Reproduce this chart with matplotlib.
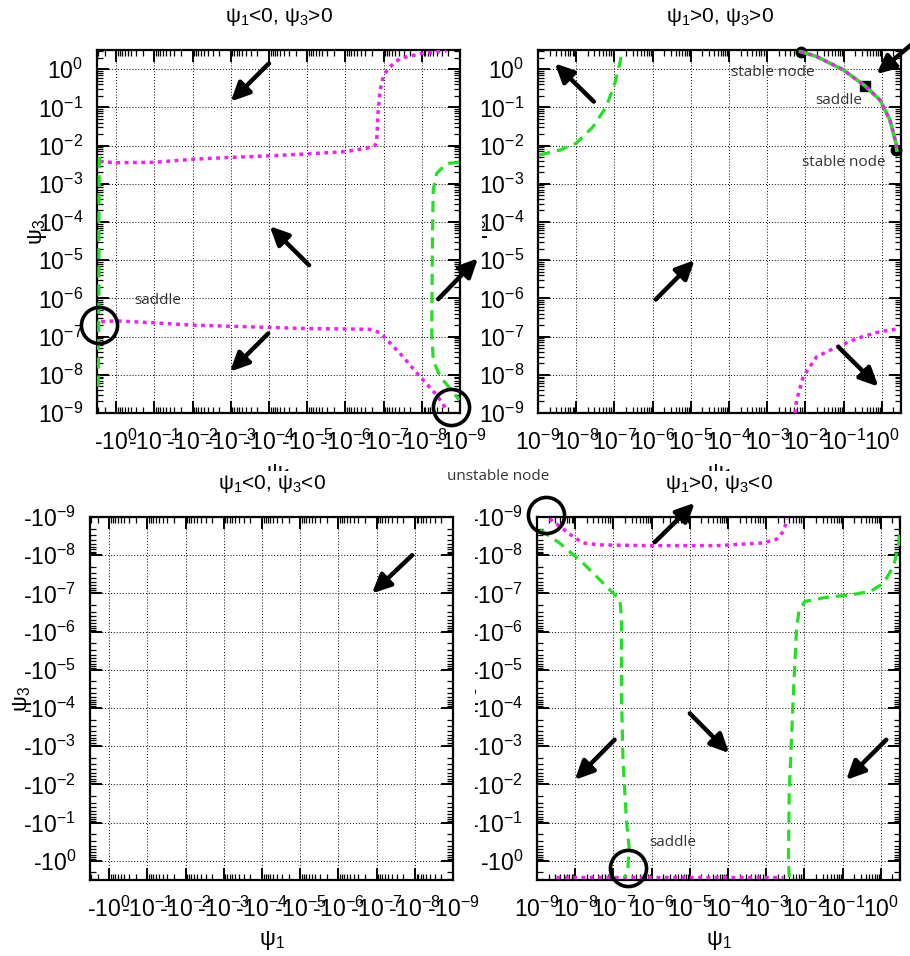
import numpy as np
import matplotlib
matplotlib.use('Agg')
import matplotlib.pyplot as plt
from matplotlib.ticker import FixedLocator, FixedFormatter, LogLocator, NullFormatter
from matplotlib.patches import Rectangle

plt.rcParams['font.family'] = ['Liberation Sans', 'DejaVu Sans']
plt.rcParams['mathtext.default'] = 'regular'

# all curve values are log10 of |psi1| (x) and |psi3| (y)
decades = list(range(-9, 1))
pos_labels = ['10$^{%d}$' % d for d in decades]
neg_labels = ['-10$^{%d}$' % d for d in decades]

# psi1<0, psi3>0
tl_mag_up_x = [0.43, -0.01, -0.99, -2.0, -3.0, -4.01, -5.0, -6.0, -6.56, -6.78, -6.82, -6.86, -6.91, -6.99, -7.12, -7.43, -8.0, -8.65]
tl_mag_up_y = [-2.42, -2.45, -2.44, -2.36, -2.31, -2.27, -2.22, -2.16, -2.07, -2.0, -1.86, -1.07, -0.55, -0.2, 0.02, 0.28, 0.41, 0.48]
tl_mag_lo_x = [0.39, -0.01, -0.99, -2.0, -3.0, -4.01, -5.0, -6.0, -6.64, -6.91, -7.43, -8.0, -8.39, -8.65]
tl_mag_lo_y = [-6.61, -6.59, -6.64, -6.70, -6.73, -6.76, -6.79, -6.80, -6.81, -6.90, -7.44, -8.1, -8.53, -8.91]
tl_grn_l_x = [0.44, 0.45, 0.45, 0.46, 0.47]
tl_grn_l_y = [-2.3, -4.0, -6.0, -7.5, -8.5]
tl_grn_r_x = [-8.98, -8.65, -8.39, -8.30, -8.28, -8.26, -8.30, -8.48, -8.74, -8.98]
tl_grn_r_y = [-2.44, -2.47, -2.73, -3.16, -4.3, -6.92, -7.62, -8.05, -8.36, -8.66]
tl_circles = [(0.45, -6.7), (-8.76, -8.85)]
tl_arrows = [((-4.0, 0.15), (-3.0, -0.85)), ((-5.05, -5.13), (-4.02, -4.11)),
             ((-3.98, -6.92), (-2.98, -7.92)), ((-8.43, -6.02), (-9.47, -4.95))]

# psi1>0, psi3>0
tr_grn_x = [-8.97, -8.43, -8.0, -7.56, -7.21, -6.99, -6.86, -6.79]
tr_grn_y = [-2.25, -2.12, -1.94, -1.51, -0.98, -0.37, 0.15, 0.5]
tr_arc_x = [-2.13, -1.71, -1.01, -0.44, -0.05, 0.21, 0.37, 0.39]
tr_arc_y = [0.46, 0.33, -0.02, -0.44, -0.81, -1.33, -1.94, -2.12]
tr_mag_x = [-2.28, -2.23, -2.06, -1.71, -1.18, -0.66, -0.05, 0.48]
tr_mag_y = [-9.0, -8.66, -8.05, -7.53, -7.27, -7.05, -6.87, -6.79]
tr_nodes = [(-2.13, 0.46), (0.37, -2.12)]
tr_saddle = (-0.44, -0.44)
tr_arrows = [((-7.54, -0.85), (-8.56, 0.15)), ((-5.92, -6.03), (-4.90, -5.0)),
             ((-1.14, -7.27), (-0.09, -8.31)), ((0.91, 0.76), (-0.14, -0.13))]

# psi1<0, psi3<0
bl_arrows = [((-7.93, -8.0), (-6.88, -7.0))]

# psi1>0, psi3<0
br_mag_top_x = [-8.67, -8.41, -8.06, -7.79, -7.36, -6.05, -4.30, -3.08, -2.73, -2.55, -2.45]
br_mag_top_y = [-8.95, -8.76, -8.49, -8.32, -8.27, -8.25, -8.25, -8.32, -8.42, -8.62, -8.95]
br_mag_bot_x = [-8.5, -2.55]
br_mag_bot_y = [0.43, 0.43]
br_grn_l_x = [-8.93, -8.41, -7.79, -7.27, -6.96, -6.83, -6.79, -6.79, -6.75, -6.66, -6.59, -6.62, -6.70]
br_grn_l_y = [-8.67, -8.32, -7.79, -7.27, -6.96, -6.83, -6.39, -4.38, -2.63, -1.06, -0.36, 0.17, 0.43]
br_grn_r_x = [-2.40, -2.42, -2.40, -2.29, -2.21, -2.14, -1.99, -1.42, -0.81, -0.28, 0.07, 0.33, 0.46, 0.49]
br_grn_r_y = [0.43, -0.01, -1.76, -4.38, -6.04, -6.57, -6.79, -6.90, -6.96, -7.05, -7.27, -7.71, -8.23, -8.67]
br_circles = [(-8.76, -9.06), (-6.62, 0.19)]
br_arrows = [((-5.92, -8.34), (-4.87, -9.37)), ((-5.0, -3.86), (-3.97, -2.82)),
             ((-6.97, -3.17), (-8.01, -2.12)), ((0.14, -3.17), (-0.91, -2.12))]

MAG = '#f020f0'
GRN = '#22e022'


def e(v):
    return 10.0 ** np.asarray(v, dtype=float)


fig = plt.figure(figsize=(9.1, 9.56), dpi=100)
W, H = 910.0, 956.0
tl = fig.add_axes([97 / W, 1 - 413 / H, 363 / W, 363 / H], zorder=1)
tr = fig.add_axes([538 / W, 1 - 413 / H, 363 / W, 363 / H], zorder=0)
bl = fig.add_axes([90 / W, 1 - 880 / H, 363 / W, 363 / H], zorder=2)
br = fig.add_axes([537 / W, 1 - 880 / H, 363 / W, 363 / H], zorder=0.5)


def setup(ax, xneg, yneg, title, ylab_x, cover_title=False):
    ax.set_xscale('log')
    ax.set_yscale('log')
    if xneg:
        ax.set_xlim(10 ** 0.5, 1e-9)
    else:
        ax.set_xlim(1e-9, 10 ** 0.5)
    if yneg:
        ax.set_ylim(10 ** 0.5, 1e-9)
    else:
        ax.set_ylim(1e-9, 10 ** 0.5)
    for axis, neg in ((ax.xaxis, xneg), (ax.yaxis, yneg)):
        axis.set_major_locator(FixedLocator(list(e(decades))))
        axis.set_major_formatter(FixedFormatter(neg_labels if neg else pos_labels))
        axis.set_minor_locator(LogLocator(base=10, subs=np.arange(2, 10), numticks=100))
        axis.set_minor_formatter(NullFormatter())
    ax.tick_params(which='both', direction='in', top=True, right=True)
    ax.tick_params(which='major', length=8.5, width=1.4, labelsize=16.5)
    ax.tick_params(axis='y', which='major', pad=10)
    ax.tick_params(axis='x', which='major', pad=12)
    ax.tick_params(which='minor', length=4, width=0.9)
    ax.grid(True, which='major', color='k', ls=(0, (1, 2)), lw=0.7)
    for s in ax.spines.values():
        s.set_linewidth(1.6)
    ax.set_xlabel('ψ$_1$', fontsize=16, va='center')
    ax.xaxis.set_label_coords(0.5, -0.168)
    ax.set_ylabel('ψ$_3$', fontsize=16, va='center')
    ax.yaxis.set_label_coords(ylab_x, 0.5)
    box = dict(fc='white', ec='none', pad=1.5) if cover_title else None
    ax.text(0.5, 1.09, title, transform=ax.transAxes, ha='center', va='center',
            fontsize=15, bbox=box, zorder=6, clip_on=False)


def arrows(ax, lst):
    for (x0, y0), (x1, y1) in lst:
        ax.annotate('', xy=(10 ** x1, 10 ** y1), xytext=(10 ** x0, 10 ** y0),
                    arrowprops=dict(arrowstyle='-|>,head_length=0.8,head_width=0.38',
                                    lw=3.2, color='k', shrinkA=0, shrinkB=0,
                                    mutation_scale=14),
                    annotation_clip=False, zorder=5)


def circles(ax, lst):
    for x, y in lst:
        ax.plot(10 ** x, 10 ** y, 'o', ms=26, mfc='none', mec='k', mew=2.6,
                clip_on=False, zorder=4)


mag_ls = dict(color=MAG, lw=2.5, ls=(0, (1.1, 1.3)), zorder=3)
grn_ls = dict(color=GRN, lw=2.3, ls=(0, (3.5, 2.2)), zorder=3)

setup(tl, True, False, 'ψ$_1$<0, ψ$_3$>0', -0.165)
setup(tr, False, False, 'ψ$_1$>0, ψ$_3$>0', -0.165)
setup(bl, True, True, 'ψ$_1$<0, ψ$_3$<0', -0.187, cover_title=True)
setup(br, False, True, 'ψ$_1$>0, ψ$_3$<0', -0.187, cover_title=True)

# top-left
tl.plot(e(tl_mag_up_x), e(tl_mag_up_y), **mag_ls)
tl.plot(e(tl_mag_lo_x), e(tl_mag_lo_y), **mag_ls)
tl.plot(e(tl_grn_l_x), e(tl_grn_l_y), **grn_ls)
tl.plot(e(tl_grn_r_x), e(tl_grn_r_y), **grn_ls)
circles(tl, tl_circles)
arrows(tl, tl_arrows)
tl.add_patch(Rectangle((462 / W, 1 - 413 / H), 20 / W, 363 / H, transform=fig.transFigure,
                       fc='white', ec='none', clip_on=False, zorder=0.1))

# top-right
tr.plot(e(tr_grn_x), e(tr_grn_y), **grn_ls)
tr.plot(e(tr_arc_x), e(tr_arc_y), color=GRN, lw=2.6, zorder=3)
tr.plot(e(tr_arc_x), e(tr_arc_y), **mag_ls)
tr.plot(e(tr_mag_x), e(tr_mag_y), **mag_ls)
tr.plot(e([p[0] for p in tr_nodes]), e([p[1] for p in tr_nodes]), 'o', ms=7.5,
        color='k', clip_on=False, zorder=2.5)
tr.plot(10 ** tr_saddle[0], 10 ** tr_saddle[1], 's', ms=7.5, color='k', zorder=2.5)
arrows(tr, tr_arrows)

# bottom-left
arrows(bl, bl_arrows)
bl.add_patch(Rectangle((455 / W, 1 - 880 / H), 20 / W, 363 / H, transform=fig.transFigure,
                       fc='white', ec='none', clip_on=False, zorder=0.1))

# bottom-right
br.plot(e(br_mag_top_x), e(br_mag_top_y), **mag_ls)
br.plot(e(br_mag_bot_x), e(br_mag_bot_y), **mag_ls)
br.plot(e(br_grn_l_x), e(br_grn_l_y), **grn_ls)
br.plot(e(br_grn_r_x), e(br_grn_r_y), **grn_ls)
circles(br, br_circles)
arrows(br, br_arrows)

# point labels
lab = dict(fontsize=11, family=['Open Sans', 'DejaVu Sans'], color='#333333',
           ha='center', va='center', zorder=10)
fig.text(158 / W, 1 - 300 / H, 'saddle', **lab)
fig.text(773 / W, 1 - 73 / H, 'stable node', **lab)
fig.text(839 / W, 1 - 100 / H, 'saddle', **lab)
fig.text(844 / W, 1 - 162 / H, 'stable node', **lab)
fig.text(498 / W, 1 - 477 / H, 'unstable node', **lab)
fig.text(673 / W, 1 - 843 / H, 'saddle', **lab)

fig.savefig('out.png', dpi=100)
